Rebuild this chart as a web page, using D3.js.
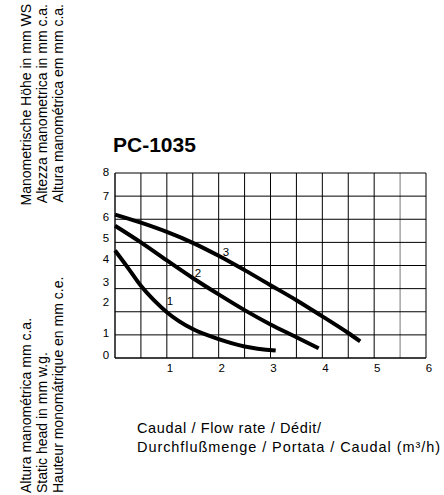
<!DOCTYPE html>
<html>
<head>
<meta charset="utf-8">
<script src="https://cdn.jsdelivr.net/npm/d3@7"></script>
<style>
  body { margin: 0; background: #fff; }
  svg { display: block; font-family: "Liberation Sans", Arial, sans-serif; }
</style>
</head>
<body>
<svg id="chart" width="444" height="495"></svg>
<script>
// ---- data ----
const title = "PC-1035";
const xTicks = [1, 2, 3, 4, 5, 6];
const yTicks = [0, 1, 2, 3, 4, 5, 6, 7, 8];
// printed y labels don't sit exactly on the grid lines in the original
const yLabelAt = [0.13, 1.08, 2.42, 3.29, 4.28, 5.19, 6.1, 7.0, 8.04];

const curve1 = [[0,4.65],[0.25,3.9],[0.5,3.12],[0.75,2.5],[1,1.98],[1.5,1.25],[2,0.82],[2.5,0.5],[3.1,0.32]];
const curve2 = [[0,5.72],[0.5,5.0],[1,4.22],[1.5,3.46],[2,2.75],[2.5,2.07],[3,1.45],[3.5,0.9],[3.93,0.42]];
const curve3 = [[0,6.2],[0.5,5.85],[1,5.45],[1.5,4.98],[2,4.42],[2.5,3.8],[3,3.15],[3.5,2.5],[4,1.8],[4.5,1.08],[4.73,0.72]];
const curveNames = ["1", "2", "3"];
const curveLabelAt = [[1.06, 2.48], [1.6, 3.66], [2.14, 4.6]];

const yTitleTop = ["Manometrische Höhe in mm WS", "Altezza manometrica in mm c.a.", "Altura manométrica em mm c.a."];
const yTitleBottom = ["Altura manométrica mm c.a.", "Static head in mm w.g.", "Hauteur monomátrique en mm c.e."];
const xTitle = ["Caudal / Flow rate / Dédit/", "Durchflußmenge / Portata / Caudal (m³/h)"];

// ---- drawing ----
const svg = d3.select("#chart");
const x = d3.scaleLinear().domain([0, 6]).range([115, 426]);
const y = d3.scaleLinear().domain([0, 8]).range([358, 173]);

const grid = svg.append("g");
grid.selectAll("line.v").data(d3.range(0.5, 6.01, 0.5))
  .join("line").attr("class", "v")
  .attr("x1", d => x(d)).attr("x2", d => x(d))
  .attr("y1", y(0)).attr("y2", y(8))
  .attr("stroke", d => d === 5.5 ? "#777" : "#000").attr("stroke-width", 1);
grid.selectAll("line.h").data(yTicks.slice(1))
  .join("line").attr("class", "h")
  .attr("x1", x(0)).attr("x2", x(6))
  .attr("y1", d => y(d)).attr("y2", d => y(d))
  .attr("stroke", "#000").attr("stroke-width", 1);

// axes frame (left + bottom a bit heavier)
grid.append("line").attr("x1", x(0)).attr("x2", x(0)).attr("y1", y(0)).attr("y2", y(8))
  .attr("stroke", "#000").attr("stroke-width", 1.4);
grid.append("line").attr("x1", x(0)).attr("x2", x(6)).attr("y1", y(0)).attr("y2", y(0))
  .attr("stroke", "#000").attr("stroke-width", 1.4);

// tick labels
svg.append("g").selectAll("text").data(xTicks)
  .join("text")
  .attr("x", d => x(d) + 3).attr("y", y(0) + 10)
  .attr("text-anchor", "middle").attr("dominant-baseline", "central")
  .attr("font-size", 11.5).text(d => d);

svg.append("g").selectAll("text").data(yTicks)
  .join("text")
  .attr("x", 106).attr("y", (d, i) => y(yLabelAt[i]))
  .attr("text-anchor", "middle").attr("dominant-baseline", "central")
  .attr("font-size", 11.5).text(d => d);

// pump curves
const line = d3.line().x(d => x(d[0])).y(d => y(d[1])).curve(d3.curveMonotoneX);
svg.append("g").selectAll("path").data([curve1, curve2, curve3])
  .join("path")
  .attr("d", line)
  .attr("fill", "none").attr("stroke", "#000")
  .attr("stroke-width", 4).attr("stroke-linecap", "butt");

svg.append("g").selectAll("text").data(curveNames)
  .join("text")
  .attr("x", (d, i) => x(curveLabelAt[i][0])).attr("y", (d, i) => y(curveLabelAt[i][1]))
  .attr("text-anchor", "middle").attr("dominant-baseline", "central")
  .attr("font-size", 11.5).text(d => d);

// title
svg.append("text").attr("x", 113).attr("y", 151.5)
  .attr("font-size", 21).attr("font-weight", "bold").text(title);

// rotated y titles
const yt = svg.append("g");
yTitleTop.forEach((t, i) => {
  yt.append("text")
    .attr("transform", `translate(${31 + i * 16},4) rotate(-90)`)
    .attr("text-anchor", "end").attr("font-size", 14).text(t);
});
yTitleBottom.forEach((t, i) => {
  yt.append("text")
    .attr("transform", `translate(${31 + i * 16},493) rotate(-90)`)
    .attr("text-anchor", "start").attr("font-size", 14).text(t);
});

// x title
const xtWidth = [184, 303];
svg.append("g").selectAll("text").data(xTitle).join("text")
  .attr("x", 137).attr("y", (d, i) => 433 + i * 18.5)
  .attr("font-size", 14.5)
  .attr("textLength", (d, i) => xtWidth[i]).attr("lengthAdjust", "spacing")
  .text(d => d);
</script>
</body>
</html>
